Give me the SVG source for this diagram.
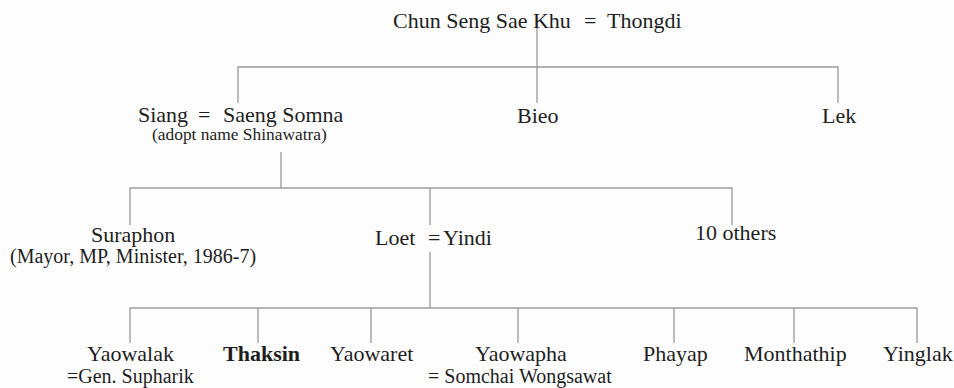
<svg xmlns="http://www.w3.org/2000/svg" width="954" height="388" viewBox="0 0 954 388">
<style>
  text { font-family: "Liberation Serif", "Times New Roman", serif; fill: #1e1e1e; font-size: 22px; }
  .sub { font-size: 20px; }
  .small { font-size: 17.4px; }
  .bold { font-weight: bold; }
  .ln { stroke: #9a9a9a; stroke-width: 1.3; fill: none; }
</style>
<rect x="0" y="0" width="954" height="388" fill="#fdfdfd"/>
<g id="connectors">
  <path class="ln" d="M537 17 V103 M238 103 V67 H838 V103"/>
  <path class="ln" d="M281 152 V188 M130 225 V188 H732 V225 M430 188 V225"/>
  <path class="ln" d="M430 252 V308 M130 343 V308 H917 V343 M258 308 V343 M371 308 V343 M518 308 V343 M674 308 V343 M794 308 V343"/>
</g>
<g id="chun-seng-sae-khu-thongdi">
  <text y="28"><tspan x="393">Chun Seng Sae Khu</tspan><tspan x="584">=</tspan><tspan x="607">Thongdi</tspan></text>
</g>
<g id="siang-saeng-somna">
  <text y="122"><tspan x="138">Siang</tspan><tspan x="198">=</tspan><tspan x="223">Saeng Somna</tspan><tspan class="small" x="152" y="140">(adopt name Shinawatra)</tspan></text>
</g>
<g id="bieo"><text x="517" y="123">Bieo</text></g>
<g id="lek"><text x="822" y="123">Lek</text></g>
<g id="suraphon">
  <text><tspan x="91" y="242">Suraphon</tspan><tspan class="sub" x="10" y="263">(Mayor, MP, Minister, 1986-7)</tspan></text>
</g>
<g id="loet-yindi">
  <text y="245"><tspan x="375">Loet</tspan><tspan x="428">=</tspan><tspan x="443">Yindi</tspan></text>
</g>
<g id="others"><text x="695" y="240">10 others</text></g>
<g id="yaowalak">
  <text><tspan x="87" y="361">Yaowalak</tspan><tspan class="sub" x="67" y="383">=Gen. Supharik</tspan></text>
</g>
<g id="thaksin"><text class="bold" x="223" y="361">Thaksin</text></g>
<g id="yaowaret"><text x="330" y="361">Yaowaret</text></g>
<g id="yaowapha">
  <text><tspan x="475" y="361">Yaowapha</tspan><tspan class="sub" x="428" y="383">= Somchai Wongsawat</tspan></text>
</g>
<g id="phayap"><text x="643" y="361">Phayap</text></g>
<g id="monthathip"><text x="744" y="361">Monthathip</text></g>
<g id="yinglak"><text x="883" y="361">Yinglak</text></g>
</svg>
